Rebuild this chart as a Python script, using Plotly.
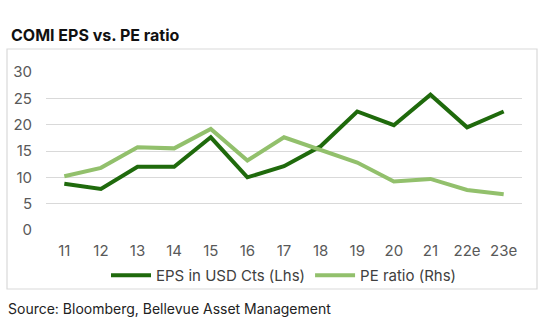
import plotly.graph_objects as go

categories = ["11", "12", "13", "14", "15", "16", "17", "18", "19", "20", "21", "22e", "23e"]
eps_values = [8.8, 7.8, 12.0, 12.0, 17.6, 10.0, 12.1, 15.9, 22.5, 19.9, 25.7, 19.5, 22.5]
pe_values = [10.2, 11.8, 15.7, 15.5, 19.2, 13.2, 17.6, 15.2, 12.8, 9.2, 9.7, 7.6, 6.8]
y_ticks = [0, 5, 10, 15, 20, 25, 30]

W, H = 542, 325
ML, MR, MT, MB = 46, 20, 72, 95
PW, PH = W - ML - MR, H - MT - MB

def px_x(x):
    return (x - ML) / PW

def px_y(y):
    return 1 - (y - MT) / PH

FONT = "Inter"

fig = go.Figure()
fig.add_trace(go.Scatter(x=categories, y=eps_values, mode="lines", name="EPS in USD Cts (Lhs)",
                         line=dict(color="#1f6a0c", width=4)))
fig.add_trace(go.Scatter(x=categories, y=pe_values, mode="lines", name="PE ratio (Rhs)",
                         line=dict(color="#92c06c", width=4)))

fig.update_layout(
    width=W, height=H,
    margin=dict(l=ML, r=MR, t=MT, b=MB),
    paper_bgcolor="white", plot_bgcolor="white",
    font=dict(family=FONT, size=15, color="#595959"),
    showlegend=True,
    legend=dict(orientation="h", x=0.5, xanchor="center", y=px_y(275.5), yanchor="middle",
                font=dict(size=15, color="#404040"), itemwidth=40, tracegroupgap=0,
                bgcolor="rgba(0,0,0,0)"),
    xaxis=dict(type="category", range=[-0.5, len(categories) - 0.5], showgrid=False,
               zeroline=False, showline=False,
               ticks="", tickfont=dict(size=15, color="#595959"), ticklabelstandoff=10,
               fixedrange=True),
    yaxis=dict(range=[0, 30], tickvals=y_ticks, showgrid=True, gridcolor="#d9d9d9", gridwidth=1,
               zeroline=False, showline=False, ticks="", tickfont=dict(size=15, color="#595959"),
               ticklabelstandoff=13, fixedrange=True),
    shapes=[dict(type="rect", xref="paper", yref="paper",
                 x0=px_x(7), x1=px_x(537), y0=px_y(289), y1=px_y(49),
                 line=dict(color="#d9d9d9", width=1.2), fillcolor="rgba(0,0,0,0)", layer="below")],
    annotations=[
        dict(text="<b>COMI EPS vs. PE ratio</b>", xref="paper", yref="paper",
             x=px_x(9), y=px_y(35), xanchor="left", yanchor="middle", showarrow=False,
             font=dict(family=FONT, size=16, color="#111111")),
        dict(text="Source: Bloomberg, Bellevue Asset Management", xref="paper", yref="paper",
             x=px_x(6), y=px_y(308), xanchor="left", yanchor="middle", showarrow=False,
             font=dict(family=FONT, size=14, color="#222222")),
    ],
)

fig.write_html("out.html")
